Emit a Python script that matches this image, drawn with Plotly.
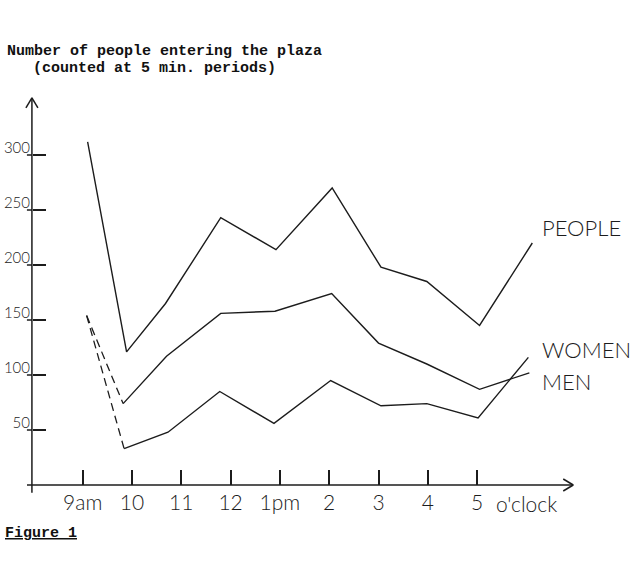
import plotly.graph_objects as go

# ---------------- data ----------------
hour_ticks = [9, 10, 11, 12, 13, 14, 15, 16, 17]
hour_labels = ["9am", "10", "11", "12", "1pm", "2", "3", "4", "5"]
count_ticks = [50, 100, 150, 200, 250, 300]
count_labels = ["50", "100", "150", "200", "250", "300"]

people_hours = [9.1, 9.89, 10.68, 11.8, 12.92, 14.06, 15.05, 15.98, 17.05, 18.12]
people_counts = [312, 121, 165, 243, 214, 270, 198, 185, 145, 220]

men_hours = [9.82, 10.7, 11.8, 12.9, 14.05, 15.0, 15.98, 17.05, 18.06]
men_counts = [74, 117, 156, 158, 174, 129, 110, 87, 102]

women_hours = [9.84, 10.73, 11.78, 12.88, 14.03, 15.05, 15.98, 17.02, 18.04]
women_counts = [33, 48, 85, 56, 95, 72, 74, 61, 116]

dash_start_hour = 9.08
dash_start_count = 154

# ---------------- layout constants ----------------
W, H = 641, 576
ML, MR, MT, MB = 20, 10, 60, 70
PW, PH = W - ML - MR, H - MT - MB
PX_PER_HOUR = 49.3
PX_PER_UNIT = 1.1
HOUR9_PX = 82.7
ZERO_PX = 485
x0 = 9 - (HOUR9_PX - ML) / PX_PER_HOUR
x1 = x0 + PW / PX_PER_HOUR
y0 = -((MT + PH) - ZERO_PX) / PX_PER_UNIT
y1 = y0 + PH / PX_PER_UNIT

AXIS_X = 7.97          # hour position of vertical axis
AXIS_TOP = 352         # arrow tip of vertical axis
X_END = 18.95          # arrow tip of horizontal axis

INK = "#1c1c1c"
HAND = "Lato"

def px_x(p):
    return (p - ML) / PW

def px_y(p):
    return (MT + PH - p) / PH

fig = go.Figure()

line_style = dict(color=INK, width=1.4)
fig.add_trace(go.Scatter(x=people_hours, y=people_counts, mode="lines",
                         line=line_style, name="PEOPLE", hoverinfo="skip"))
fig.add_trace(go.Scatter(x=men_hours, y=men_counts, mode="lines",
                         line=line_style, name="MEN", hoverinfo="skip"))
fig.add_trace(go.Scatter(x=women_hours, y=women_counts, mode="lines",
                         line=line_style, name="WOMEN", hoverinfo="skip"))
dash_style = dict(color=INK, width=1.3, dash="8px,5px")
fig.add_trace(go.Scatter(x=[dash_start_hour, men_hours[0]],
                         y=[dash_start_count, men_counts[0]], mode="lines",
                         line=dash_style, hoverinfo="skip"))
fig.add_trace(go.Scatter(x=[dash_start_hour, women_hours[0]],
                         y=[dash_start_count, women_counts[0]], mode="lines",
                         line=dash_style, hoverinfo="skip"))

# axis lines with open arrowheads
ax_line = dict(color=INK, width=1.5)
dxh = 6 / PX_PER_HOUR
dyu = 6 / PX_PER_UNIT
lxh = 10 / PX_PER_HOUR
lyu = 10 / PX_PER_UNIT
shapes = [
    dict(type="line", x0=AXIS_X, x1=AXIS_X, y0=-7, y1=AXIS_TOP, line=ax_line),
    dict(type="line", x0=AXIS_X, x1=AXIS_X - dxh, y0=AXIS_TOP, y1=AXIS_TOP - lyu, line=ax_line),
    dict(type="line", x0=AXIS_X, x1=AXIS_X + dxh, y0=AXIS_TOP, y1=AXIS_TOP - lyu, line=ax_line),
    dict(type="line", x0=AXIS_X - 0.1, x1=X_END, y0=0, y1=0, line=ax_line),
    dict(type="line", x0=X_END, x1=X_END - lxh, y0=0, y1=dyu, line=ax_line),
    dict(type="line", x0=X_END, x1=X_END - lxh, y0=0, y1=-dyu, line=ax_line),
]
# small left stubs of the y ticks (crossing the axis)
for v in count_ticks:
    shapes.append(dict(type="line", x0=AXIS_X - 5 / PX_PER_HOUR, x1=AXIS_X,
                       y0=v, y1=v, line=ax_line))
for s in shapes:
    s["xref"] = "x"
    s["yref"] = "y"

annotations = [
    dict(text="<b>Number of people entering the plaza</b>", x=px_x(5), y=px_y(51),
         font=dict(family="Liberation Mono", size=15, color="#111")),
    dict(text="<b>(counted at 5 min. periods)</b>", x=px_x(31), y=px_y(69),
         font=dict(family="Liberation Mono", size=15, color="#111")),
    dict(text="<b><u>Figure 1</u></b>", x=px_x(3), y=px_y(533),
         font=dict(family="Liberation Mono", size=15, color="#111")),
    dict(text="o'clock", x=px_x(494), y=px_y(503),
         font=dict(family=HAND, size=21, color=INK, weight=300)),
    dict(text="PEOPLE", x=px_x(540), y=px_y(227),
         font=dict(family=HAND, size=22, color=INK, weight=300)),
    dict(text="WOMEN", x=px_x(540), y=px_y(349),
         font=dict(family=HAND, size=22, color=INK, weight=300)),
    dict(text="MEN", x=px_x(540), y=px_y(381),
         font=dict(family=HAND, size=22, color=INK, weight=300)),
]
for a in annotations:
    a.update(xref="paper", yref="paper", xanchor="left", yanchor="middle",
             showarrow=False)

fig.update_layout(
    width=W, height=H,
    margin=dict(l=ML, r=MR, t=MT, b=MB),
    paper_bgcolor="white", plot_bgcolor="white",
    showlegend=False,
    shapes=shapes,
    annotations=annotations,
    xaxis=dict(range=[x0, x1], showgrid=False, zeroline=False, showline=False,
               automargin=False,
               tickvals=hour_ticks, ticktext=hour_labels,
               ticks="inside", ticklen=15, tickwidth=1.5, tickcolor=INK,
               anchor="free", position=px_y(ZERO_PX), ticklabelstandoff=3,
               tickfont=dict(family=HAND, size=21, color=INK, weight=300)),
    yaxis=dict(range=[y0, y1], showgrid=False, zeroline=False, showline=False,
               automargin=False,
               tickvals=count_ticks, ticktext=count_labels,
               ticks="inside", ticklen=13, tickwidth=1.5, tickcolor=INK,
               anchor="free", position=px_x(32),
               ticklabelshift=-7, ticklabelstandoff=2,
               tickfont=dict(family=HAND, size=15, color=INK, weight=300)),
)

fig.write_html("out.html")
